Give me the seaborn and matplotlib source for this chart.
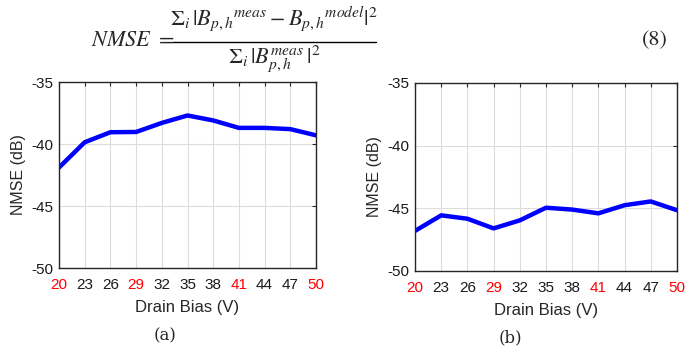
import numpy as np
import pandas as pd
import matplotlib
matplotlib.use("Agg")
import matplotlib.pyplot as plt
import seaborn as sns

drain_bias = ["20", "23", "26", "29", "32", "35", "38", "41", "44", "47", "50"]
red_ticks = ["20", "29", "41", "50"]
nmse_a = [-41.9, -39.86, -39.05, -39.03, -38.3, -37.7, -38.1, -38.7, -38.7, -38.8, -39.3]
nmse_b = [-46.8, -45.56, -45.83, -46.6, -45.96, -44.95, -45.1, -45.4, -44.75, -44.45, -45.15]
y_ticks = [-50, -45, -40, -35]

sns.set_theme(style="white")
plt.rcParams['font.family'] = ['Liberation Sans', 'DejaVu Sans']
plt.rcParams['mathtext.fontset'] = 'stix'

fig = plt.figure(figsize=(6.89, 3.47), dpi=100)
W, H = 689, 347
def ax_at(x0, y0, x1, y1):
    return fig.add_axes([x0 / W, 1 - y1 / H, (x1 - x0) / W, (y1 - y0) / H])

ax_a = ax_at(59, 82, 316, 268)
ax_b = ax_at(415, 83, 677, 271)

for ax, vals in [(ax_a, nmse_a), (ax_b, nmse_b)]:
    df = pd.DataFrame({"pos": np.arange(len(drain_bias)), "nmse": vals})
    sns.lineplot(data=df, x="pos", y="nmse", ax=ax, color=(0, 0, 1), linewidth=3.2)
    ax.set_xlim(0, len(drain_bias) - 1)
    ax.set_ylim(-50, -35)
    ax.set_xticks(np.arange(len(drain_bias)))
    ax.set_xticklabels(drain_bias)
    ax.set_yticks(y_ticks)
    ax.set_yticklabels([str(v) for v in y_ticks])
    for lbl in ax.get_xticklabels():
        lbl.set_color("red" if lbl.get_text() in red_ticks else "#1a1a1a")
    for lbl in ax.get_yticklabels():
        lbl.set_color("#1a1a1a")
    ax.tick_params(axis="both", direction="in", length=3, width=0.8, labelsize=11,
                   top=True, right=True, color="#262626", pad=4)
    ax.tick_params(axis="x", pad=7)
    ax.grid(True, color="#dcdcdc", linewidth=0.8)
    for s in ax.spines.values():
        s.set_color("#262626")
        s.set_linewidth(1.0)
        s.set_visible(True)
    ax.set_xlabel("Drain Bias (V)", fontsize=12, color="#262626", labelpad=6)
    ax.set_ylabel("NMSE (dB)", fontsize=11.5, color="#262626", labelpad=4)

fig.text(165 / W, 1 - 336 / H, "(a)", ha="center", va="center", fontsize=12,
         family="DejaVu Serif")
fig.text(510 / W, 1 - 338 / H, "(b)", ha="center", va="center", fontsize=12,
         family="DejaVu Serif")

# equation, assembled from parts
fig.text(133 / W, 1 - 40 / H, r"$NMSE\ =$", ha="center", va="center", fontsize=16)
fig.text(274 / W, 1 - 19 / H,
         r"$\Sigma_i\,|B_{p,h}{}^{meas} - B_{p,h}{}^{model}|^2$",
         ha="center", va="center", fontsize=16)
fig.add_artist(plt.Line2D([173 / W, 376 / W], [1 - 42 / H, 1 - 42 / H],
                          transform=fig.transFigure, color="black", linewidth=1.0))
fig.text(274 / W, 1 - 59 / H, r"$\Sigma_i\,|B_{p,h}^{meas}\,|^2$",
         ha="center", va="center", fontsize=16)
fig.text(655 / W, 1 - 40 / H, "(8)", ha="center", va="center", fontsize=16,
         family="STIXGeneral")

fig.savefig("out.png", dpi=100)
